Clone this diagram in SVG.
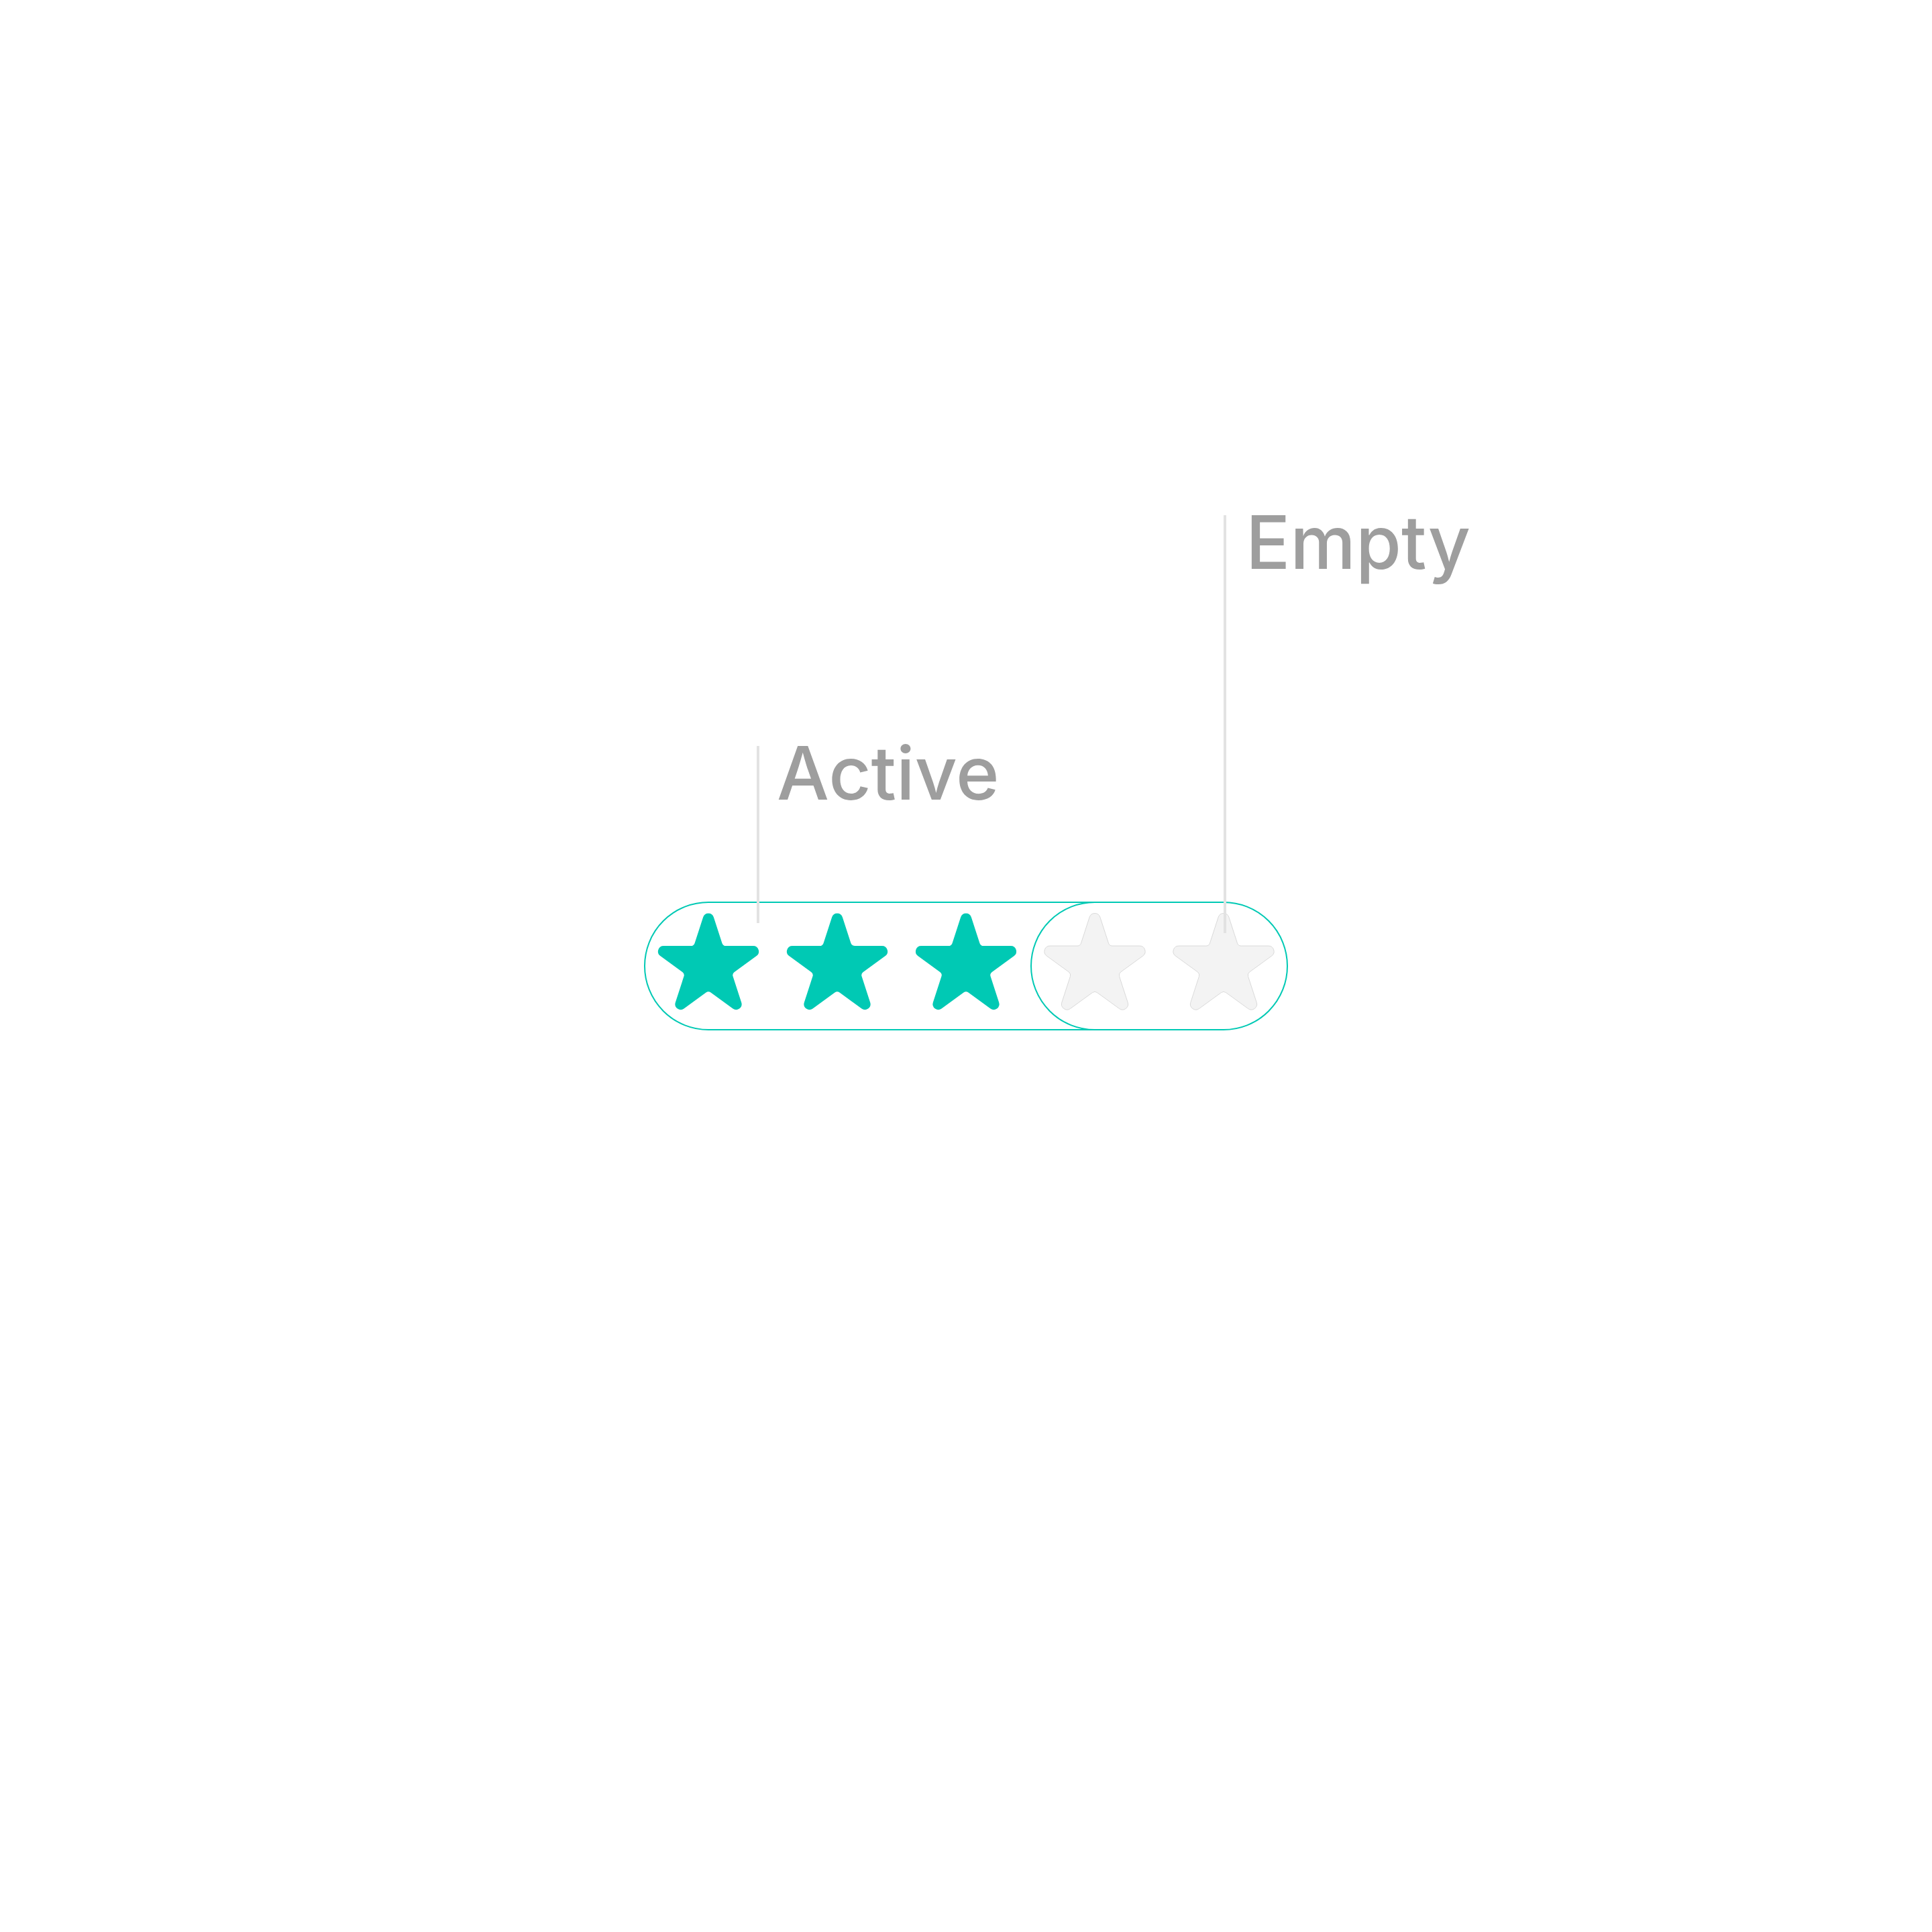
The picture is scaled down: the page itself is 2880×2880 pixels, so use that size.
<svg xmlns="http://www.w3.org/2000/svg" width="2880" height="2880" viewBox="0 0 2880 2880">
  <style>
    .pill { fill: #FFFFFF; stroke: #00C9B4; stroke-width: 2; }
    .on { fill: #00C9B4; }
    .off { fill: #F3F3F3; stroke: #DADADA; stroke-width: 1; }
    .label { font-family: Inter, "Liberation Sans", sans-serif; font-size: 110px; font-weight: 500; fill: #9E9E9E; }
    .lead { stroke: #E2E2E2; stroke-width: 4; fill: none; }
  </style>
  <defs>
    <path id="star" d="M7.86,-72.80 L20.43,-34.12 A6,6 0 0 0 26.14,-29.97 L66.80,-29.97 A8.27,8.27 0 0 1 71.66,-15.01 L38.77,8.89 A6,6 0 0 0 36.59,15.60 L49.15,54.27 A8.27,8.27 0 0 1 36.42,63.51 L3.53,39.61 A6,6 0 0 0 -3.53,39.61 L-36.42,63.51 A8.27,8.27 0 0 1 -49.15,54.27 L-36.59,15.60 A6,6 0 0 0 -38.77,8.89 L-71.66,-15.01 A8.27,8.27 0 0 1 -66.80,-29.97 L-26.14,-29.97 A6,6 0 0 0 -20.43,-34.12 L-7.86,-72.80 A8.27,8.27 0 0 1 7.86,-72.80 Z"/>
  </defs>
  <rect width="2880" height="2880" fill="#FFFFFF"/>
  <g id="active-group">
    <rect class="pill" x="961" y="1345" width="760" height="190" rx="95" ry="95"/>
    <use href="#star" class="on" x="1056" y="1440"/>
    <use href="#star" class="on" x="1248" y="1440"/>
    <use href="#star" class="on" x="1440" y="1440"/>
  </g>
  <g id="empty-group">
    <rect class="pill" x="1537" y="1345" width="382" height="190" rx="95" ry="95"/>
    <use href="#star" class="off" x="1632" y="1440"/>
    <use href="#star" class="off" x="1824" y="1440"/>
  </g>
  <g id="label-active">
    <text class="label" x="1158" y="1192">Active</text>
  </g>
  <g id="label-empty">
    <text class="label" x="1857" y="848">Empty</text>
  </g>
  <g id="connectors">
    <line class="lead" x1="1130" y1="1112" x2="1130" y2="1376"/>
    <line class="lead" x1="1826" y1="768" x2="1826" y2="1391"/>
  </g>
</svg>
